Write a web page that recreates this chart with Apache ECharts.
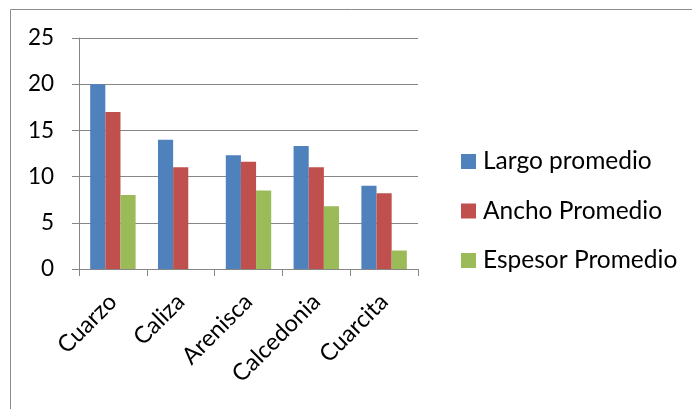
<!DOCTYPE html>
<html>
<head>
<meta charset="utf-8">
<script src="https://cdn.jsdelivr.net/npm/echarts@6/dist/echarts.min.js"></script>
</head>
<body style="margin:0;background:#fff;">
<div id="main" style="width:692px;height:409px;"></div>
<script type="text/javascript">
var categories = ['Cuarzo', 'Caliza', 'Arenisca', 'Calcedonia', 'Cuarcita'];
var largo = [20, 14, 12.3, 13.3, 9];
var ancho = [17, 11, 11.6, 11, 8.2];
var espesor = [8, null, 8.5, 6.8, 2];
var seriesNames = ['Largo promedio', 'Ancho Promedio', 'Espesor Promedio'];
var colors = ['#4F81BD', '#C0504D', '#9BBB59'];

var chart = echarts.init(document.getElementById('main'));
var font = 'Lato, sans-serif';

var option = {
  animation: false,
  color: colors,
  textStyle: { fontFamily: font },
  grid: { left: 79, right: 274, top: 38, bottom: 140 },
  graphic: [{
    type: 'rect',
    shape: { x: 10.5, y: 9.5, width: 700, height: 420 },
    style: { fill: 'none', stroke: '#8c8c8c', lineWidth: 1 },
    silent: true
  }],
  legend: {
    orient: 'vertical',
    left: 461,
    top: 149,
    padding: 0,
    itemWidth: 15,
    itemHeight: 15,
    itemGap: 24.5,
    icon: 'rect',
    textStyle: { fontSize: 24.5, lineHeight: 24, color: '#000', fontFamily: font, padding: [0, 0, 0, 2] },
    data: seriesNames
  },
  xAxis: {
    type: 'category',
    data: categories,
    axisLine: { lineStyle: { color: '#868686', width: 1 } },
    axisTick: { show: true, length: 7, alignWithLabel: false, lineStyle: { color: '#868686' } },
    axisLabel: {
      rotate: 45,
      margin: 29,
      fontSize: 23.5,
      color: '#000',
      fontFamily: font
    }
  },
  yAxis: {
    type: 'value',
    min: 0,
    max: 25,
    interval: 5,
    axisLine: { show: true, lineStyle: { color: '#868686', width: 1 } },
    axisTick: { show: true, length: 7, lineStyle: { color: '#868686' } },
    splitLine: { lineStyle: { color: '#868686', width: 1 } },
    axisLabel: { fontSize: 22.5, color: '#000', margin: 25, fontFamily: font }
  },
  series: [
    { name: seriesNames[0], type: 'bar', data: largo, barGap: '0%', barCategoryGap: '33%' },
    { name: seriesNames[1], type: 'bar', data: ancho, barGap: '0%', barCategoryGap: '33%' },
    { name: seriesNames[2], type: 'bar', data: espesor, barGap: '0%', barCategoryGap: '33%' }
  ]
};

chart.setOption(option);
</script>
</body>
</html>
